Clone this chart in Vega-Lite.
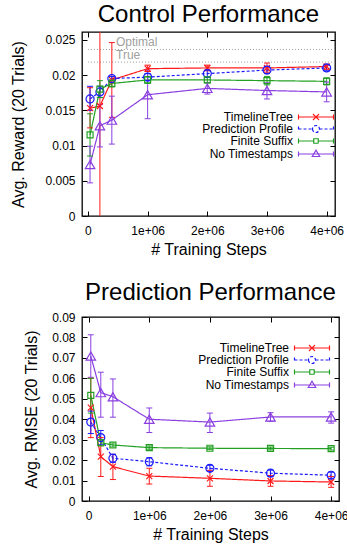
{
  "$schema": "https://vega.github.io/schema/vega-lite/v6.json",
  "padding": {"left": 10, "top": 1, "right": 0, "bottom": 3},
  "config": {
    "font": "Liberation Sans",
    "view": {"stroke": "#000", "strokeWidth": 1.3},
    "axis": {"labelFont": "Liberation Sans", "labelFontSize": 12, "labelColor": "#000", "titleFont": "Liberation Sans", "titleFontSize": 16, "titleFontWeight": "normal", "titleColor": "#000", "tickColor": "#000", "grid": false, "domain": false, "tickSize": -5, "tickWidth": 1},
    "legend": {"orient": "none", "title": null, "labelFont": "Liberation Sans", "labelFontSize": 12, "labelColor": "#000", "labelAlign": "right", "labelOffset": -29, "symbolOffset": 12, "symbolSize": 100, "symbolStrokeWidth": 1.2, "rowPadding": 0, "padding": 0, "labelLimit": 300}
  },
  "datasets": {
    "refs": [
      {"name": "Optimal", "value": 0.02362},
      {"name": "True", "value": 0.02183}
    ],
    "control": [
      {"series": "TimelineTree", "x": 35000, "y": 0.0153, "lo": 0.0125, "hi": 0.0182},
      {"series": "TimelineTree", "x": 200000, "y": 0.0156, "lo": -0.01, "hi": 0.045},
      {"series": "TimelineTree", "x": 400000, "y": 0.0193, "lo": 0.0140, "hi": 0.0246},
      {"series": "TimelineTree", "x": 1000000, "y": 0.0209, "lo": 0.0205, "hi": 0.0214},
      {"series": "TimelineTree", "x": 2000000, "y": 0.0210, "lo": 0.0206, "hi": 0.0214},
      {"series": "TimelineTree", "x": 3000000, "y": 0.0210, "lo": 0.0204, "hi": 0.0217},
      {"series": "TimelineTree", "x": 4000000, "y": 0.0212, "lo": 0.0208, "hi": 0.0215},
      {"series": "Prediction Profile", "x": 35000, "y": 0.0166, "lo": 0.0150, "hi": 0.0184},
      {"series": "Prediction Profile", "x": 200000, "y": 0.0176, "lo": 0.0168, "hi": 0.0184},
      {"series": "Prediction Profile", "x": 400000, "y": 0.0195, "lo": 0.0192, "hi": 0.0198},
      {"series": "Prediction Profile", "x": 1000000, "y": 0.0197, "lo": 0.0192, "hi": 0.0202},
      {"series": "Prediction Profile", "x": 2000000, "y": 0.0202, "lo": 0.0197, "hi": 0.0207},
      {"series": "Prediction Profile", "x": 3000000, "y": 0.0207, "lo": 0.0202, "hi": 0.0212},
      {"series": "Prediction Profile", "x": 4000000, "y": 0.0210, "lo": 0.0206, "hi": 0.0214},
      {"series": "Finite Suffix", "x": 35000, "y": 0.0115, "lo": 0.0085, "hi": 0.0145},
      {"series": "Finite Suffix", "x": 200000, "y": 0.0180, "lo": 0.0168, "hi": 0.0192},
      {"series": "Finite Suffix", "x": 400000, "y": 0.0188, "lo": 0.0183, "hi": 0.0193},
      {"series": "Finite Suffix", "x": 1000000, "y": 0.0193, "lo": 0.0188, "hi": 0.0198},
      {"series": "Finite Suffix", "x": 2000000, "y": 0.0193, "lo": 0.0189, "hi": 0.0197},
      {"series": "Finite Suffix", "x": 3000000, "y": 0.0192, "lo": 0.0186, "hi": 0.0198},
      {"series": "Finite Suffix", "x": 4000000, "y": 0.0191, "lo": 0.0186, "hi": 0.0196},
      {"series": "No Timestamps", "x": 35000, "y": 0.0073, "lo": 0.0047, "hi": 0.0099},
      {"series": "No Timestamps", "x": 200000, "y": 0.0128, "lo": 0.0098, "hi": 0.0158},
      {"series": "No Timestamps", "x": 400000, "y": 0.0136, "lo": 0.0102, "hi": 0.0170},
      {"series": "No Timestamps", "x": 1000000, "y": 0.0172, "lo": 0.0138, "hi": 0.0207},
      {"series": "No Timestamps", "x": 2000000, "y": 0.0181, "lo": 0.0173, "hi": 0.0189},
      {"series": "No Timestamps", "x": 3000000, "y": 0.0178, "lo": 0.0166, "hi": 0.0189},
      {"series": "No Timestamps", "x": 4000000, "y": 0.0176, "lo": 0.0162, "hi": 0.0190}
    ],
    "prediction": [
      {"series": "TimelineTree", "x": 35000, "y": 0.0457, "lo": 0.031, "hi": 0.060},
      {"series": "TimelineTree", "x": 200000, "y": 0.0217, "lo": 0.012, "hi": 0.031},
      {"series": "TimelineTree", "x": 400000, "y": 0.0168, "lo": 0.0105, "hi": 0.0228},
      {"series": "TimelineTree", "x": 1000000, "y": 0.0122, "lo": 0.0083, "hi": 0.0160},
      {"series": "TimelineTree", "x": 2000000, "y": 0.0111, "lo": 0.0072, "hi": 0.0150},
      {"series": "TimelineTree", "x": 3000000, "y": 0.0098, "lo": 0.0072, "hi": 0.0125},
      {"series": "TimelineTree", "x": 4000000, "y": 0.0093, "lo": 0.0067, "hi": 0.0120},
      {"series": "Prediction Profile", "x": 35000, "y": 0.0386, "lo": 0.033, "hi": 0.044},
      {"series": "Prediction Profile", "x": 200000, "y": 0.0310, "lo": 0.0275, "hi": 0.0345},
      {"series": "Prediction Profile", "x": 400000, "y": 0.0209, "lo": 0.0189, "hi": 0.0229},
      {"series": "Prediction Profile", "x": 1000000, "y": 0.0192, "lo": 0.0172, "hi": 0.0212},
      {"series": "Prediction Profile", "x": 2000000, "y": 0.0160, "lo": 0.0145, "hi": 0.0175},
      {"series": "Prediction Profile", "x": 3000000, "y": 0.0136, "lo": 0.0121, "hi": 0.0151},
      {"series": "Prediction Profile", "x": 4000000, "y": 0.0126, "lo": 0.0111, "hi": 0.0141},
      {"series": "Finite Suffix", "x": 35000, "y": 0.0517, "lo": 0.043, "hi": 0.060},
      {"series": "Finite Suffix", "x": 200000, "y": 0.0285, "lo": 0.0270, "hi": 0.0300},
      {"series": "Finite Suffix", "x": 400000, "y": 0.0274, "lo": 0.0264, "hi": 0.0284},
      {"series": "Finite Suffix", "x": 1000000, "y": 0.0261, "lo": 0.0253, "hi": 0.0269},
      {"series": "Finite Suffix", "x": 2000000, "y": 0.0258, "lo": 0.0251, "hi": 0.0265},
      {"series": "Finite Suffix", "x": 3000000, "y": 0.0257, "lo": 0.0250, "hi": 0.0264},
      {"series": "Finite Suffix", "x": 4000000, "y": 0.0256, "lo": 0.0249, "hi": 0.0263},
      {"series": "No Timestamps", "x": 35000, "y": 0.0709, "lo": 0.0605, "hi": 0.0813},
      {"series": "No Timestamps", "x": 200000, "y": 0.0530, "lo": 0.041, "hi": 0.063},
      {"series": "No Timestamps", "x": 400000, "y": 0.0510, "lo": 0.041, "hi": 0.0597},
      {"series": "No Timestamps", "x": 1000000, "y": 0.0400, "lo": 0.0335, "hi": 0.0455},
      {"series": "No Timestamps", "x": 2000000, "y": 0.0386, "lo": 0.0335, "hi": 0.0430},
      {"series": "No Timestamps", "x": 3000000, "y": 0.0411, "lo": 0.0390, "hi": 0.0432},
      {"series": "No Timestamps", "x": 4000000, "y": 0.0411, "lo": 0.0381, "hi": 0.0436}
    ]
  },
  "resolve": {"scale": {"color": "independent", "stroke": "independent", "shape": "independent", "strokeDash": "independent"}, "legend": {"color": "independent", "stroke": "independent", "shape": "independent", "strokeDash": "independent"}},
  "spacing": 22,
  "vconcat": [
    {
      "width": 253,
      "height": 184,
      "title": {"text": "Control Performance", "fontSize": 24, "font": "Liberation Sans", "fontWeight": "normal", "color": "#000", "frame": "group", "anchor": "middle", "offset": 5},
      "data": {"name": "control"},
      "resolve": {"axis": {"x": "independent", "y": "independent"}},
      "layer": [
        {
          "data": {"name": "refs"},
          "mark": {"type": "rule", "strokeDash": [1, 2], "color": "#a0a0a0", "strokeWidth": 1},
          "encoding": {
            "y": {"field": "value", "type": "quantitative", "axis": null},
            "x": {"datum": 0, "axis": null},
            "x2": {"datum": 4140000}
          }
        },
        {
          "data": {"name": "refs"},
          "mark": {"type": "text", "align": "left", "baseline": "alphabetic", "dy": -3.5, "color": "#a0a0a0", "fontSize": 12, "font": "Liberation Sans"},
          "encoding": {
            "y": {"field": "value", "type": "quantitative", "axis": null},
            "x": {"datum": 470000, "axis": null},
            "text": {"field": "name"}
          }
        },
        {
          "mark": {"type": "line", "strokeWidth": 1.2, "clip": true},
          "encoding": {
            "x": {"field": "x", "type": "quantitative", "scale": {"domain": [-100000, 4140000], "nice": false, "zero": false},
              "axis": {"orient": "bottom", "values": [0, 1000000, 2000000, 3000000, 4000000], "labelExpr": "datum.value == 0 ? '0' : format(datum.value / 1000000, 'd') + 'e+06'", "title": "# Training Steps", "labelPadding": 14, "titlePadding": 5}},
            "y": {"field": "y", "type": "quantitative", "scale": {"domain": [0, 0.0261], "nice": false, "zero": false},
              "axis": {"orient": "left", "values": [0, 0.005, 0.01, 0.015, 0.02, 0.025], "format": "~g", "title": "Avg. Reward (20 Trials)", "labelPadding": 12, "titlePadding": 18}},
            "color": {"field": "series", "type": "nominal", "legend": null,
              "scale": {"domain": ["Finite Suffix", "No Timestamps", "Prediction Profile", "TimelineTree"], "range": ["#23a023", "#8a3fe0", "#1a1aff", "#ff1a1a"]}},
            "strokeDash": {"field": "series", "type": "nominal"}
          }
        },
        {
          "mark": {"type": "rule", "clip": true, "strokeWidth": 1},
          "encoding": {
            "x": {"field": "x", "type": "quantitative", "axis": null},
            "y": {"field": "lo", "type": "quantitative", "axis": null},
            "y2": {"field": "hi"},
            "color": {"field": "series", "type": "nominal", "legend": null}
          }
        },
        {
          "mark": {"type": "tick", "orient": "horizontal", "size": 6, "thickness": 1, "opacity": 1, "clip": true},
          "encoding": {
            "x": {"field": "x", "type": "quantitative", "axis": {"orient": "top", "values": [0, 1000000, 2000000, 3000000, 4000000], "labels": false, "title": null}},
            "y": {"field": "lo", "type": "quantitative", "axis": {"orient": "right", "values": [0, 0.005, 0.01, 0.015, 0.02, 0.025], "labels": false, "title": null}},
            "color": {"field": "series", "type": "nominal", "legend": null}
          }
        },
        {
          "mark": {"type": "tick", "orient": "horizontal", "size": 6, "thickness": 1, "opacity": 1, "clip": true},
          "encoding": {
            "x": {"field": "x", "type": "quantitative", "axis": null},
            "y": {"field": "hi", "type": "quantitative", "axis": null},
            "color": {"field": "series", "type": "nominal", "legend": null}
          }
        },
        {
          "transform": [{"filter": "datum.series === 'TimelineTree'"}],
          "mark": {"type": "point", "filled": false, "strokeWidth": 1.2, "opacity": 1, "clip": true, "shape": "M-1,-1L1,1M-1,1L1,-1", "size": 36, "color": "#ff1a1a"},
          "encoding": {"x": {"field": "x", "type": "quantitative", "axis": null}, "y": {"field": "y", "type": "quantitative", "axis": null}}
        },
        {
          "transform": [{"filter": "datum.series === 'Prediction Profile'"}],
          "mark": {"type": "point", "filled": false, "strokeWidth": 1.2, "opacity": 1, "clip": true, "shape": "circle", "size": 64, "color": "#1a1aff"},
          "encoding": {"x": {"field": "x", "type": "quantitative", "axis": null}, "y": {"field": "y", "type": "quantitative", "axis": null}}
        },
        {
          "transform": [{"filter": "datum.series === 'Finite Suffix'"}],
          "mark": {"type": "point", "filled": false, "strokeWidth": 1.2, "opacity": 1, "clip": true, "shape": "square", "size": 36, "color": "#23a023"},
          "encoding": {"x": {"field": "x", "type": "quantitative", "axis": null}, "y": {"field": "y", "type": "quantitative", "axis": null}}
        },
        {
          "transform": [{"filter": "datum.series === 'No Timestamps'"}],
          "mark": {"type": "point", "filled": false, "strokeWidth": 1.2, "opacity": 1, "clip": true, "shape": "triangle-up", "size": 90, "color": "#8a3fe0"},
          "encoding": {"x": {"field": "x", "type": "quantitative", "axis": null}, "y": {"field": "y", "type": "quantitative", "axis": null}}
        },
        {
          "transform": [{"filter": "false"}],
          "mark": {"type": "point", "filled": false, "strokeWidth": 1.2, "opacity": 1},
          "encoding": {
            "x": {"field": "x", "type": "quantitative", "axis": null},
            "y": {"field": "y", "type": "quantitative", "axis": null},
            "stroke": {"field": "series", "type": "nominal",
              "scale": {"domain": ["TimelineTree", "Prediction Profile", "Finite Suffix", "No Timestamps"], "range": ["#ff1a1a", "#1a1aff", "#23a023", "#8a3fe0"]},
              "legend": {"legendX": 216, "legendY": 79}},
            "shape": {"field": "series", "type": "nominal",
              "scale": {"domain": ["TimelineTree", "Prediction Profile", "Finite Suffix", "No Timestamps"], "range": [
                "M-3.5,-0.5L-3.5,0.5M-3.5,0L3.5,0M3.5,-0.5L3.5,0.5M-0.6,-0.6L0.6,0.6M-0.6,0.6L0.6,-0.6",
                "M-3.5,-0.5L-3.5,0.5M-3.5,0L-0.7,0M0.7,0L3.5,0M3.5,-0.5L3.5,0.5M-0.7,0A0.7,0.7,0,1,0,0.7,0A0.7,0.7,0,1,0,-0.7,0",
                "M-3.5,-0.5L-3.5,0.5M-3.5,0L-0.45,0M0.45,0L3.5,0M3.5,-0.5L3.5,0.5M-0.45,-0.45L0.45,-0.45L0.45,0.45L-0.45,0.45Z",
                "M-3.5,-0.5L-3.5,0.5M-3.5,0L3.5,0M3.5,-0.5L3.5,0.5M0,-0.75L0.75,0.5L-0.75,0.5Z"]},
              "legend": {"legendX": 216, "legendY": 79}},
            "strokeDash": {"field": "series", "type": "nominal",
              "scale": {"domain": ["TimelineTree", "Prediction Profile", "Finite Suffix", "No Timestamps"], "range": [[1, 0], [3, 2], [1, 0], [1, 0]]},
              "legend": {"legendX": 216, "legendY": 79}}
          }
        }
      ]
    },
    {
      "width": 257,
      "height": 184,
      "title": {"text": "Prediction Performance", "fontSize": 24, "font": "Liberation Sans", "fontWeight": "normal", "color": "#000", "frame": "group", "anchor": "middle", "offset": 6},
      "data": {"name": "prediction"},
      "resolve": {"axis": {"x": "independent", "y": "independent"}},
      "layer": [
        {
          "mark": {"type": "line", "strokeWidth": 1.2, "clip": true},
          "encoding": {
            "x": {"field": "x", "type": "quantitative", "scale": {"domain": [-110000, 4130000], "nice": false, "zero": false},
              "axis": {"orient": "bottom", "values": [0, 1000000, 2000000, 3000000, 4000000], "labelExpr": "datum.value == 0 ? '0' : format(datum.value / 1000000, 'd') + 'e+06'", "title": "# Training Steps", "labelPadding": 14, "titlePadding": 5}},
            "y": {"field": "y", "type": "quantitative", "scale": {"domain": [0, 0.09], "nice": false, "zero": false},
              "axis": {"orient": "left", "values": [0, 0.01, 0.02, 0.03, 0.04, 0.05, 0.06, 0.07, 0.08, 0.09], "format": "~g", "title": "Avg. RMSE (20 Trials)", "labelPadding": 12, "titlePadding": 12}},
            "color": {"field": "series", "type": "nominal", "legend": null,
              "scale": {"domain": ["Finite Suffix", "No Timestamps", "Prediction Profile", "TimelineTree"], "range": ["#23a023", "#8a3fe0", "#1a1aff", "#ff1a1a"]}},
            "strokeDash": {"field": "series", "type": "nominal"}
          }
        },
        {
          "mark": {"type": "rule", "clip": true, "strokeWidth": 1},
          "encoding": {
            "x": {"field": "x", "type": "quantitative", "axis": null},
            "y": {"field": "lo", "type": "quantitative", "axis": null},
            "y2": {"field": "hi"},
            "color": {"field": "series", "type": "nominal", "legend": null}
          }
        },
        {
          "mark": {"type": "tick", "orient": "horizontal", "size": 6, "thickness": 1, "opacity": 1, "clip": true},
          "encoding": {
            "x": {"field": "x", "type": "quantitative", "axis": {"orient": "top", "values": [0, 1000000, 2000000, 3000000, 4000000], "labels": false, "title": null}},
            "y": {"field": "lo", "type": "quantitative", "axis": {"orient": "right", "values": [0, 0.01, 0.02, 0.03, 0.04, 0.05, 0.06, 0.07, 0.08, 0.09], "labels": false, "title": null}},
            "color": {"field": "series", "type": "nominal", "legend": null}
          }
        },
        {
          "mark": {"type": "tick", "orient": "horizontal", "size": 6, "thickness": 1, "opacity": 1, "clip": true},
          "encoding": {
            "x": {"field": "x", "type": "quantitative", "axis": null},
            "y": {"field": "hi", "type": "quantitative", "axis": null},
            "color": {"field": "series", "type": "nominal", "legend": null}
          }
        },
        {
          "transform": [{"filter": "datum.series === 'TimelineTree'"}],
          "mark": {"type": "point", "filled": false, "strokeWidth": 1.2, "opacity": 1, "clip": true, "shape": "M-1,-1L1,1M-1,1L1,-1", "size": 36, "color": "#ff1a1a"},
          "encoding": {"x": {"field": "x", "type": "quantitative", "axis": null}, "y": {"field": "y", "type": "quantitative", "axis": null}}
        },
        {
          "transform": [{"filter": "datum.series === 'Prediction Profile'"}],
          "mark": {"type": "point", "filled": false, "strokeWidth": 1.2, "opacity": 1, "clip": true, "shape": "circle", "size": 64, "color": "#1a1aff"},
          "encoding": {"x": {"field": "x", "type": "quantitative", "axis": null}, "y": {"field": "y", "type": "quantitative", "axis": null}}
        },
        {
          "transform": [{"filter": "datum.series === 'Finite Suffix'"}],
          "mark": {"type": "point", "filled": false, "strokeWidth": 1.2, "opacity": 1, "clip": true, "shape": "square", "size": 36, "color": "#23a023"},
          "encoding": {"x": {"field": "x", "type": "quantitative", "axis": null}, "y": {"field": "y", "type": "quantitative", "axis": null}}
        },
        {
          "transform": [{"filter": "datum.series === 'No Timestamps'"}],
          "mark": {"type": "point", "filled": false, "strokeWidth": 1.2, "opacity": 1, "clip": true, "shape": "triangle-up", "size": 90, "color": "#8a3fe0"},
          "encoding": {"x": {"field": "x", "type": "quantitative", "axis": null}, "y": {"field": "y", "type": "quantitative", "axis": null}}
        },
        {
          "transform": [{"filter": "false"}],
          "mark": {"type": "point", "filled": false, "strokeWidth": 1.2, "opacity": 1},
          "encoding": {
            "x": {"field": "x", "type": "quantitative", "axis": null},
            "y": {"field": "y", "type": "quantitative", "axis": null},
            "stroke": {"field": "series", "type": "nominal",
              "scale": {"domain": ["TimelineTree", "Prediction Profile", "Finite Suffix", "No Timestamps"], "range": ["#ff1a1a", "#1a1aff", "#23a023", "#8a3fe0"]},
              "legend": {"legendX": 212, "legendY": 25}},
            "shape": {"field": "series", "type": "nominal",
              "scale": {"domain": ["TimelineTree", "Prediction Profile", "Finite Suffix", "No Timestamps"], "range": [
                "M-3.5,-0.5L-3.5,0.5M-3.5,0L3.5,0M3.5,-0.5L3.5,0.5M-0.6,-0.6L0.6,0.6M-0.6,0.6L0.6,-0.6",
                "M-3.5,-0.5L-3.5,0.5M-3.5,0L-0.7,0M0.7,0L3.5,0M3.5,-0.5L3.5,0.5M-0.7,0A0.7,0.7,0,1,0,0.7,0A0.7,0.7,0,1,0,-0.7,0",
                "M-3.5,-0.5L-3.5,0.5M-3.5,0L-0.45,0M0.45,0L3.5,0M3.5,-0.5L3.5,0.5M-0.45,-0.45L0.45,-0.45L0.45,0.45L-0.45,0.45Z",
                "M-3.5,-0.5L-3.5,0.5M-3.5,0L3.5,0M3.5,-0.5L3.5,0.5M0,-0.75L0.75,0.5L-0.75,0.5Z"]},
              "legend": {"legendX": 212, "legendY": 25}},
            "strokeDash": {"field": "series", "type": "nominal",
              "scale": {"domain": ["TimelineTree", "Prediction Profile", "Finite Suffix", "No Timestamps"], "range": [[1, 0], [3, 2], [1, 0], [1, 0]]},
              "legend": {"legendX": 212, "legendY": 25}}
          }
        }
      ]
    }
  ]
}
